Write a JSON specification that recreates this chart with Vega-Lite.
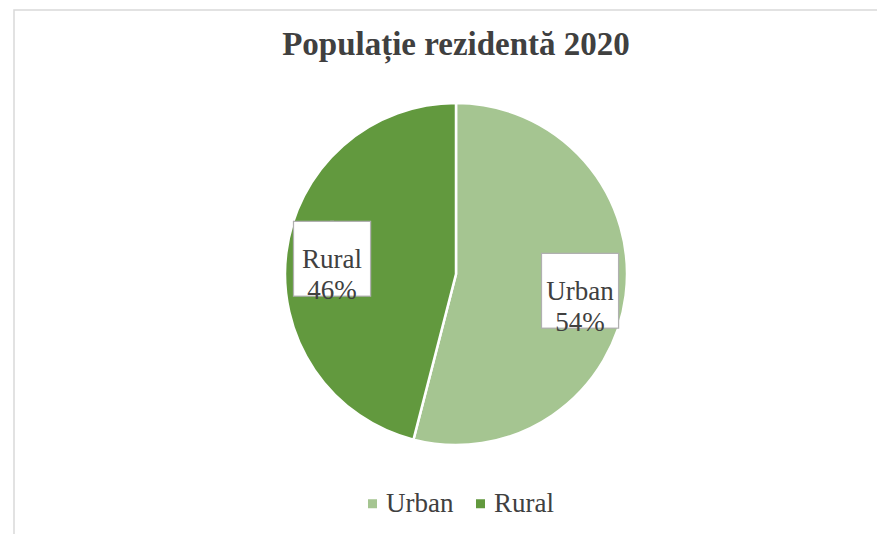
{
  "$schema": "https://vega.github.io/schema/vega-lite/v6.json",
  "width": 884,
  "height": 528,
  "autosize": {"type": "none"},
  "padding": {"left": 14, "top": 10, "right": 0, "bottom": 0},
  "background": "white",
  "view": {"stroke": "#d9d9d9", "strokeWidth": 1.5},
  "config": {
    "view": {"stroke": "#d9d9d9", "strokeWidth": 1.5},
    "font": "Liberation Serif, Times New Roman, serif"
  },
  "title": {
    "text": "Populație rezidentă 2020",
    "font": "Liberation Serif, Times New Roman, serif",
    "fontSize": 33,
    "fontWeight": "bold",
    "color": "#404040",
    "anchor": "middle",
    "baseline": "alphabetic",
    "offset": -45,
    "dy": 33
  },
  "data": {
    "values": [
      {"area": "Urban", "share": 54, "label": "Urban\n54%"},
      {"area": "Rural", "share": 46, "label": "Rural\n46%"}
    ]
  },
  "encoding": {
    "theta": {"field": "share", "type": "quantitative", "stack": true},
    "order": {"field": "share", "type": "quantitative", "sort": "descending"}
  },
  "layer": [
    {
      "mark": {"type": "arc", "radius": 171, "stroke": "white", "strokeWidth": 2.5},
      "encoding": {
        "color": {
          "field": "area",
          "type": "nominal",
          "sort": ["Urban", "Rural"],
          "scale": {"domain": ["Urban", "Rural"], "range": ["#A5C591", "#62993E"]},
          "legend": {
            "orient": "none",
            "legendX": 345,
            "legendY": 480,
            "direction": "horizontal",
            "title": null,
            "labelFont": "Liberation Serif, Times New Roman, serif",
            "labelFontSize": 27,
            "labelColor": "#404040",
            "symbolType": "square",
            "symbolSize": 81,
            "symbolStrokeWidth": 0,
            "labelOffset": 0,
            "columnPadding": 13,
            "padding": 0
          }
        }
      }
    },
    {
      "mark": {"type": "text", "radius": 125, "font": "DejaVu Sans Mono", "fontSize": 62, "text": "██", "fill": "white", "stroke": "#b0b0b0", "strokeWidth": 2.5, "baseline": "middle", "align": "center", "dy": 3},
      "encoding": {}
    },
    {
      "mark": {"type": "text", "radius": 125, "font": "DejaVu Sans Mono", "fontSize": 62, "text": "██", "fill": "white", "baseline": "middle", "align": "center", "dy": 3},
      "encoding": {}
    },
    {
      "mark": {"type": "text", "radius": 125, "font": "Liberation Serif, Times New Roman, serif", "fontSize": 27, "lineHeight": 31, "color": "#404040", "lineBreak": "\n", "baseline": "middle", "align": "center", "dy": 2},
      "encoding": {"text": {"field": "label", "type": "nominal"}}
    }
  ]
}
